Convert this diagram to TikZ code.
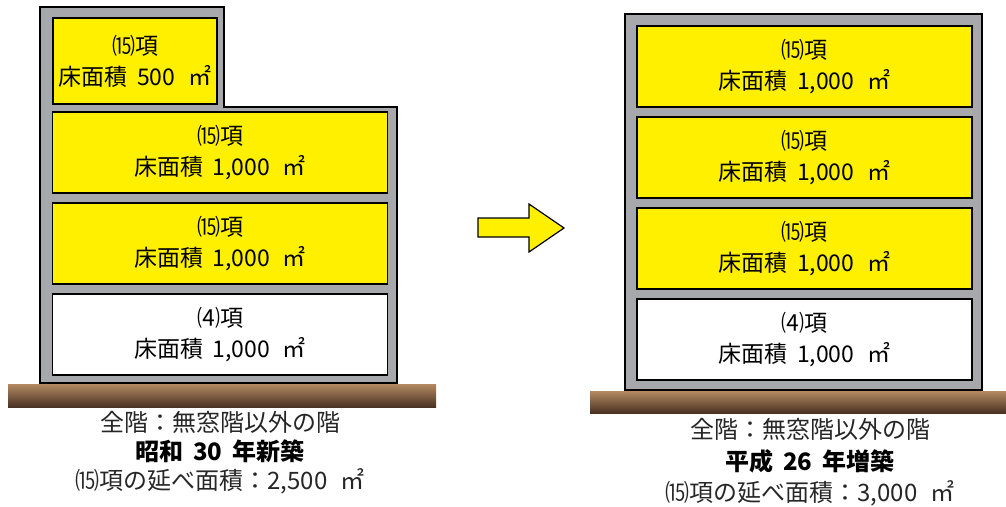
\documentclass[tikz,border=0pt]{standalone}
\usepackage{fontspec}
\setmainfont{Noto Sans CJK JP}
\usepackage{xcolor}
\usepackage{tikz}
\usetikzlibrary{positioning}

\definecolor{floorylw}{HTML}{FFF000}
\definecolor{wallgray}{HTML}{A7A8AB}
\definecolor{soiltop}{HTML}{B38A63}
\definecolor{soilbot}{HTML}{4A3122}
\newcommand{\flarea}[1]{床面積\hspace{.4em}#1\hspace{.55em}㎡}

\begin{document}
\begin{tikzpicture}[
    x=1pt,y=-1pt,
    wall/.style={draw,line width=1.5pt,fill=wallgray},
    room/.style={draw,line width=1.5pt,fill=floorylw,align=center,inner sep=0pt,
      minimum width=335pt,minimum height=81pt,font=\fontsize{23}{31}\selectfont},
    ground/.style={top color=soiltop,bottom color=soilbot},
    note/.style={font=\fontsize{24}{26}\selectfont,text=black!85},
    node distance=8.5pt
  ]
    \useasboundingbox (0,0) rectangle (1006,506);
    \draw[wall] (40,7) -- (224,7) -- (224,107) -- (397,107) -- (397,383) -- (40,383) -- cycle;
    \draw[wall] (625,14) rectangle (982,390);
    \shade[ground] (8,384) rectangle (436,407);
    \shade[ground] (590,391) rectangle (1006,413);

    \node[room,minimum width=164pt,minimum height=86pt] (l1) at (135,61) {⒂項\\\flarea{500}};
    \node[room] (l2) at (220,152.5) {⒂項\\\flarea{1,000}};
    \node[room,below=of l2] (l3) {⒂項\\\flarea{1,000}};
    \node[room,fill=white,below=of l3] (l4) {⑷項\\\flarea{1,000}};

    \node[room] (r1) at (804.5,66.5) {⒂項\\\flarea{1,000}};
    \node[room,below=of r1] (r2) {⒂項\\\flarea{1,000}};
    \node[room,below=of r2] (r3) {⒂項\\\flarea{1,000}};
    \node[room,fill=white,below=of r3] (r4) {⑷項\\\flarea{1,000}};

    \draw[line width=1.2pt,fill=floorylw] (478,218) -- (529,218) -- (529,204) -- (564,228)
      -- (529,252) -- (529,237) -- (478,237) -- cycle;

    \node[note] (lnote) at (220,422) {全階：無窓階以外の階};
    \node[note,font=\fontsize{24}{26}\selectfont\bfseries,text=black] (lyear) at (220,451) {昭和\hspace{.4em}30\hspace{.4em}年新築};
    \node[note] (ltotal) at (220,481) {⒂項の延べ面積：2,500\hspace{.55em}㎡};

    \node[note] (rnote) at (810,429) {全階：無窓階以外の階};
    \node[note,font=\fontsize{24}{26}\selectfont\bfseries,text=black] (ryear) at (810,461) {平成\hspace{.4em}26\hspace{.4em}年増築};
    \node[note] (rtotal) at (810,493) {⒂項の延べ面積：3,000\hspace{.55em}㎡};
  \end{tikzpicture}
\end{document}
